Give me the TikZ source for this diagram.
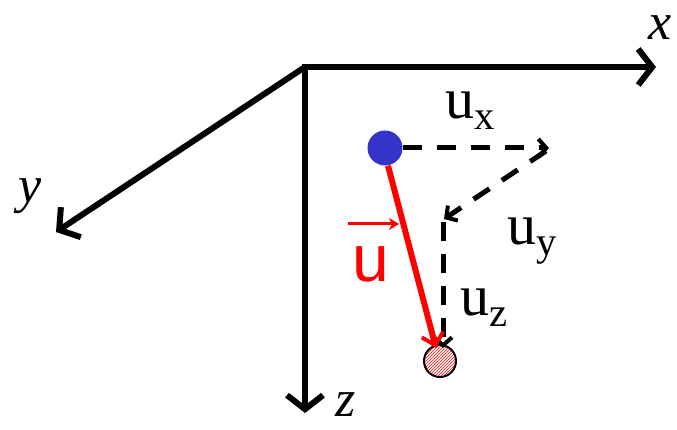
\documentclass[tikz,border=0pt]{standalone}
\usepackage{fontspec}
\setmainfont{Liberation Serif}
\setsansfont{Liberation Sans}
\usetikzlibrary{arrows.meta,patterns}
\definecolor{dotblue}{HTML}{3434C8}
\tikzset{
  axis/.style={line width=6pt,-{Straight Barb[length=14pt,width=36pt,line width=6pt]}},
  comp/.style={line width=5pt,dash pattern=on 19pt off 15pt,-{Straight Barb[length=8pt,width=18pt,line width=4pt]}},
  lbl/.style={inner sep=0pt,font=\fontsize{58}{58}\selectfont},
  axlbl/.style={inner sep=0pt,font=\fontsize{52}{52}\selectfont\itshape},
}
\begin{document}
\begin{tikzpicture}[x=1pt,y=-1pt]
\useasboundingbox (0,0) rectangle (677,430);
\coordinate (O) at (305,67);
\coordinate (X) at (656,67);
\coordinate (Y) at (56,232);
\coordinate (Z) at (305,413);
\draw[axis,-] (O) ++(-3,0) -- (O);
\draw[axis] (O) -- (X);
\draw[axis] (O) -- (Y);
\draw[axis] (O) -- (Z);
\node[axlbl] (lx) at (660,28) {x};
\node[axlbl] (ly) at (30,196) {y};
\node[axlbl] (lz) at (346,405) {z};
% points
\node[circle,fill=dotblue,minimum size=35pt,inner sep=0pt] (b) at (385,148) {};
\node[circle,draw=black,line width=2pt,fill=red!12,pattern=north east lines,pattern color=red,minimum size=32pt,inner sep=0pt] (h) at (440,361) {};
\coordinate (c1) at (549,148);
\coordinate (c2) at (444,219);
\coordinate (c3) at (443,348);
\draw[comp] (b.east) -- (c1);
\draw[comp] (c1) ++(-3,3) -- (c2);
\draw[comp,dash pattern=on 19pt off 13pt] (443,222) -- (c3);
\draw[red,line width=6pt,-{Straight Barb[length=11pt,width=22pt,line width=4pt]}] (b.south) ++(3,0) -- (436,348);
% labels
\node[lbl,anchor=base] (ux) at (470,119) {u\textsubscript{x}};
\node[lbl,anchor=base] (uy) at (532,245) {u\textsubscript{y}};
\node[lbl,anchor=base] (uz) at (484,316) {u\textsubscript{z}};
\node[inner sep=0pt,anchor=base,text=red,font=\sffamily\fontsize{66}{66}\selectfont] (u) at (371,282) {u};
\draw[red,line width=3pt,-{Stealth[length=10pt,width=12pt,inset=3pt]}] (348,224) -- (399,224);
\end{tikzpicture}
\end{document}
